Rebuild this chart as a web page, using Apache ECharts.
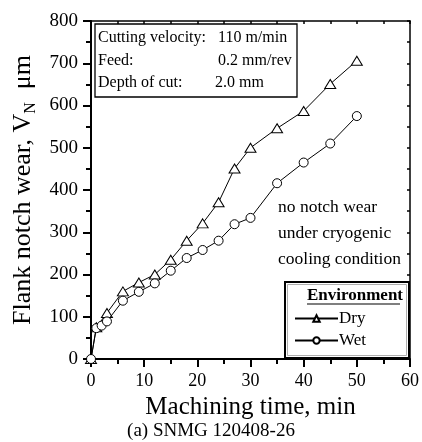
<!DOCTYPE html>
<html>
<head>
<meta charset="utf-8">
<script src="https://cdn.jsdelivr.net/npm/echarts@6/dist/echarts.min.js"></script>
<style>
html,body{margin:0;padding:0;background:#fff;}
#chart{width:422px;height:442px;}
</style>
</head>
<body>
<div id="chart"></div>
<script>
// ---- data ----
var dryTime = [0, 1, 3, 6, 9, 12, 15, 18, 21, 24, 27, 30, 35, 40, 45, 50];
var dryWear = [0, 75, 109, 160, 181, 200, 235, 280, 321, 371, 451, 500, 546, 587, 651, 706];
var wetTime = [0, 1, 2, 3, 6, 9, 12, 15, 18, 21, 24, 27, 30, 35, 40, 45, 50];
var wetWear = [0, 73, 79, 89, 138, 159, 179, 209, 239, 258, 280, 319, 334, 416, 465, 510, 575];
var xTicks = [0, 10, 20, 30, 40, 50, 60];
var yTicks = [0, 100, 200, 300, 400, 500, 600, 700, 800];
var seriesNames = ['Dry', 'Wet'];
var legendTitle = 'Environment';
var infoLines = [['Cutting velocity:', '110 m/min'], ['Feed:', '0.2 mm/rev'], ['Depth of cut:', '2.0 mm']];
var noteLines = ['no notch wear', 'under cryogenic', 'cooling condition'];
var xTitle = 'Machining time, min';
var caption = '(a) SNMG 120408-26';

function pairs(xs, ys) { return xs.map(function (x, i) { return [x, ys[i]]; }); }

var FONT = 'Liberation Serif';
var chart = echarts.init(document.getElementById('chart'), null, {renderer: 'canvas'});

function txt(s, x, y, size, extra) {
  var st = {text: s, fontSize: size, fontFamily: FONT, fill: '#000', textVerticalAlign: 'middle'};
  if (extra) for (var k in extra) st[k] = extra[k];
  return {type: 'text', x: x, y: y, z: 11, style: st};
}

var graphics = [];
// info box
graphics.push({type: 'rect', x: 95, y: 24, shape: {x: 0, y: 0, width: 202, height: 73},
  style: {fill: '#fff', stroke: '#000', lineWidth: 1.3}, z: 10});
var infoRight = [218, 218, 215];
infoLines.forEach(function (row, i) {
  graphics.push(txt(row[0], 98, 38 + i * 22.5, 16));
  graphics.push(txt(row[1], infoRight[i], 38 + i * 22.5, 16));
});
// note
noteLines.forEach(function (t, i) {
  graphics.push(txt(t, 278, 207 + i * 26, 17.5));
});
// legend box
graphics.push({type: 'rect', x: 285, y: 282, shape: {x: 0, y: 0, width: 124, height: 76},
  style: {fill: '#fff', stroke: '#000', lineWidth: 2}, z: 10});
graphics.push({type: 'rect', x: 287.5, y: 284.5, shape: {x: 0, y: 0, width: 119, height: 71},
  style: {fill: 'none', stroke: '#999', lineWidth: 0.8}, z: 10});
graphics.push(txt(legendTitle, 307, 296, 17, {fontWeight: 'bold'}));
graphics.push({type: 'line', shape: {x1: 307, y1: 304, x2: 400, y2: 304}, z: 11,
  style: {stroke: '#000', lineWidth: 1.2}});
// caption
graphics.push(txt(caption, 211, 431, 19, {textAlign: 'center'}));

var lineStyle = {color: '#000', width: 1};
var itemStyle = {color: '#fff', borderColor: '#000', borderWidth: 1};

chart.setOption({
  backgroundColor: '#fff',
  animation: false,
  textStyle: {fontFamily: FONT, color: '#000'},
  grid: {left: 91, right: 10, top: 21, bottom: 83, containLabel: false},
  xAxis: [{
    type: 'value', position: 'bottom', min: 0, max: 60, interval: 10,
    name: xTitle, nameLocation: 'middle', nameGap: 27,
    nameTextStyle: {fontSize: 25, fontFamily: FONT, color: '#000'},
    axisLine: {show: true, onZero: false, lineStyle: {color: '#000', width: 2}},
    axisTick: {show: true, inside: false, length: 8, lineStyle: {color: '#000', width: 2}},
    minorTick: {show: true, splitNumber: 2, length: 5, lineStyle: {color: '#000', width: 2}},
    axisLabel: {fontSize: 18, fontFamily: FONT, color: '#000', margin: 13,
      formatter: function (v) { return xTicks.indexOf(v) >= 0 ? String(v) : ''; }},
    splitLine: {show: false}
  }, {
    type: 'value', position: 'top', min: 0, max: 60, interval: 5,
    axisLine: {show: true, onZero: false, lineStyle: {color: '#000', width: 1.5}},
    axisTick: {show: true, inside: true, length: 3, lineStyle: {color: '#000', width: 1.5}},
    axisLabel: {show: false}, splitLine: {show: false}
  }],
  yAxis: [{
    type: 'value', position: 'left', min: 0, max: 800, interval: 100,
    name: '{a|Flank notch wear, V}{s|N}{a|  μm}', nameLocation: 'middle', nameRotate: 90, nameGap: 50,
    nameTextStyle: {fontFamily: FONT, color: '#000',
      rich: {a: {fontSize: 26, fontFamily: FONT, lineHeight: 30, verticalAlign: 'middle'},
             s: {fontSize: 16, fontFamily: FONT, lineHeight: 30, verticalAlign: 'bottom', padding: [0, 0, 0, 0]}}},
    axisLine: {show: true, onZero: false, lineStyle: {color: '#000', width: 2}},
    axisTick: {show: true, inside: false, length: 8, lineStyle: {color: '#000', width: 2}},
    minorTick: {show: true, splitNumber: 2, length: 5, lineStyle: {color: '#000', width: 2}},
    axisLabel: {fontSize: 19, fontFamily: FONT, color: '#000', margin: 13,
      formatter: function (v) { return yTicks.indexOf(v) >= 0 ? String(v) : ''; }},
    splitLine: {show: false}
  }, {
    type: 'value', position: 'right', min: 0, max: 800, interval: 50,
    axisLine: {show: true, onZero: false, lineStyle: {color: '#000', width: 1.5}},
    axisTick: {show: true, inside: true, length: 3, lineStyle: {color: '#000', width: 1.5}},
    axisLabel: {show: false}, splitLine: {show: false}
  }],
  legend: {
    data: seriesNames, orient: 'vertical', left: 294, top: 310, z: 20,
    itemWidth: 43, itemHeight: 8, itemGap: 5,
    textStyle: {fontSize: 17, fontFamily: FONT, color: '#000', padding: [0, 0, 0, -4]},
    backgroundColor: 'transparent', borderWidth: 0, padding: 0, selectedMode: false
  },
  series: [{
    name: seriesNames[0], type: 'line', data: pairs(dryTime, dryWear),
    symbol: 'triangle', symbolSize: [11, 9], showAllSymbol: true,
    lineStyle: lineStyle, itemStyle: itemStyle, z: 3
  }, {
    name: seriesNames[1], type: 'line', data: pairs(wetTime, wetWear),
    symbol: 'circle', symbolSize: 9, showAllSymbol: true,
    lineStyle: lineStyle, itemStyle: itemStyle, z: 4
  }],
  graphic: graphics
});
</script>
</body>
</html>
